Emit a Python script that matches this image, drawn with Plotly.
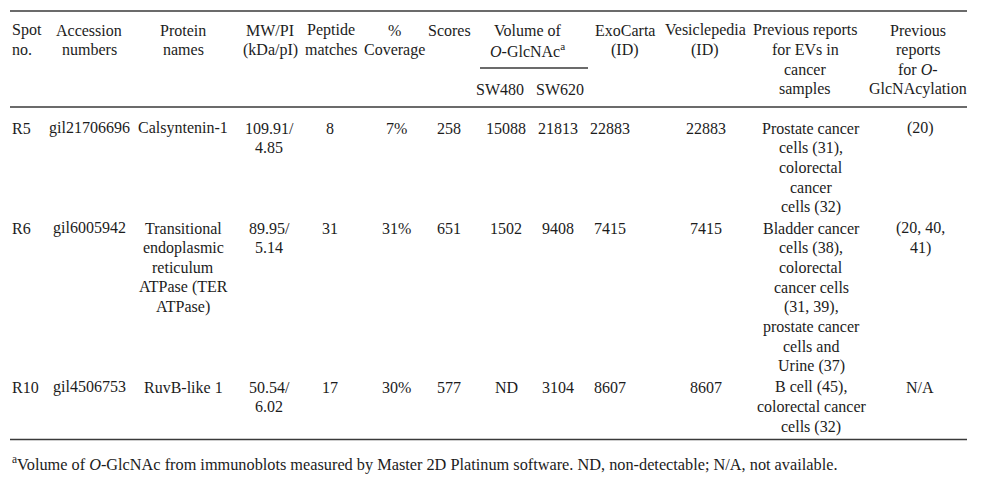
import plotly.graph_objects as go

# ---------------- data ----------------
spot_no = ["R5", "R6", "R10"]
accession_numbers = ["gil21706696", "gil6005942", "gil4506753"]
protein_names = ["Calsyntenin-1",
                 "Transitional\nendoplasmic\nreticulum\nATPase (TER\nATPase)",
                 "RuvB-like 1"]
mw_pi = ["109.91/\n4.85", "89.95/\n5.14", "50.54/\n6.02"]
peptide_matches = ["8", "31", "17"]
coverage = ["7%", "31%", "30%"]
scores = ["258", "651", "577"]
volume_sw480 = ["15088", "1502", "ND"]
volume_sw620 = ["21813", "9408", "3104"]
exocarta_id = ["22883", "7415", "8607"]
vesiclepedia_id = ["22883", "7415", "8607"]
ev_reports = ["Prostate cancer\ncells (31),\ncolorectal\ncancer\ncells (32)",
              "Bladder cancer\ncells (38),\ncolorectal\ncancer cells\n(31, 39),\nprostate cancer\ncells and\nUrine (37)",
              "B cell (45),\ncolorectal cancer\ncells (32)"]
oglcnac_reports = ["(20)", "(20, 40,\n41)", "N/A"]

header_labels = ["Spot\nno.", "Accession\nnumbers", "Protein\nnames", "MW/PI\n(kDa/pI)",
                 "Peptide\nmatches", "%\nCoverage", "Scores", "", "", "ExoCarta\n(ID)",
                 "Vesiclepedia\n(ID)", "Previous reports\nfor EVs in\ncancer\nsamples",
                 "Previous\nreports\nfor <i>O</i>-\nGlcNAcylation"]
group_label = "Volume of\n<i>O</i>-GlcNAc<sup>a</sup>"
sub_labels = ["SW480", "SW620"]
footnote = ("<sup>a</sup>Volume of <i>O</i>-GlcNAc from immunoblots measured by Master 2D "
            "Platinum software. ND, non-detectable; N/A, not available.")

columns = [spot_no, accession_numbers, protein_names, mw_pi, peptide_matches, coverage,
           scores, volume_sw480, volume_sw620, exocarta_id, vesiclepedia_id,
           ev_reports, oglcnac_reports]

# ---------------- layout geometry ----------------
W, H = 1000, 482
OFF = 8  # page body margin: figure starts 8px in from the window edge
FONT = "Liberation Serif"
FS = 16
LH = 19.7
TXT = "#1c1c1c"
LINE = "#3a3a3a"
X0, X1 = 10, 967

head_x = [10, 89, 183, 270, 331, 394, 449, 500, 560, 625, 705, 805, 918]
data_x = [10, 89, 183, 269, 330, 396, 449, 506, 558, 610, 706, 811, 920]
anchors = ["left"] + ["center"] * 12

fig = go.Figure()
fig.add_trace(go.Scatter(x=[OFF, W], y=[OFF, H], mode="markers",
                         marker=dict(opacity=0), hoverinfo="skip", showlegend=False))

ann = []


def add_lines(text, x, y0, xanchor, size=FS):
    for i, line in enumerate(text.split("\n")):
        if line == "":
            continue
        ann.append(dict(x=x, y=y0 + i * LH, text=line, xref="x", yref="y",
                        xanchor=xanchor, yanchor="middle", showarrow=False,
                        font=dict(family=FONT, size=size, color=TXT)))


# header
HY = 30
for lab, x, a in zip(header_labels, head_x, anchors):
    add_lines(lab, x, HY, a)
add_lines(group_label, (head_x[7] + head_x[8]) / 2 - 3, HY, "center")
for lab, x in zip(sub_labels, head_x[7:9]):
    add_lines(lab, x, HY + 3 * LH, "center")

# body
top_line = 11
head_line = 107
y = 128
for r in range(len(spot_no)):
    nlines = 1
    for col, x, a in zip(columns, data_x, anchors):
        add_lines(col[r], x, y, a)
        nlines = max(nlines, len(col[r].split("\n")))
    last = y + (nlines - 1) * LH
    y = y + nlines * LH + 1.5
bottom_line = last + 13

add_lines(footnote, 10, 463, "left", size=16.3)

shapes = []
for yy in (top_line, head_line, bottom_line):
    shapes.append(dict(type="line", xref="x", yref="y", x0=X0, x1=X1, y0=yy, y1=yy,
                       line=dict(color=LINE, width=1.4)))
shapes.append(dict(type="line", xref="x", yref="y", x0=480, x1=588, y0=68, y1=68,
                   line=dict(color=LINE, width=1.4)))

fig.update_layout(
    width=W - OFF, height=H - OFF, margin=dict(l=0, r=0, t=0, b=0),
    paper_bgcolor="white", plot_bgcolor="white",
    xaxis=dict(range=[OFF, W], visible=False, fixedrange=True),
    yaxis=dict(range=[H, OFF], visible=False, fixedrange=True),
    annotations=ann, shapes=shapes, showlegend=False,
)

fig.write_html("out.html", config={"displayModeBar": False})
